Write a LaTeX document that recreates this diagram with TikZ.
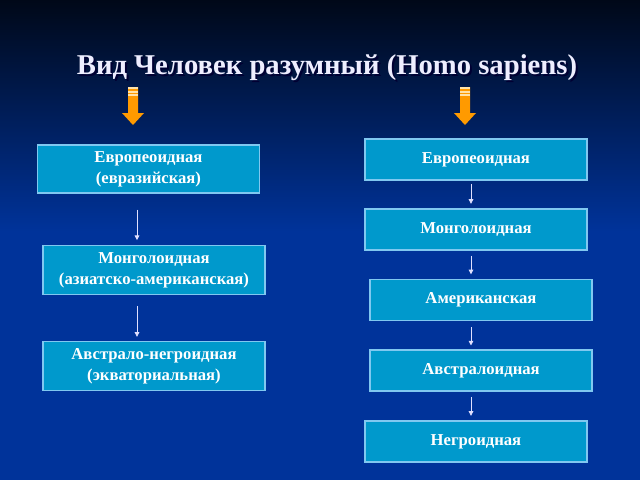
\documentclass[tikz,border=0pt]{standalone}
\usepackage{fontspec}
\setmainfont{Liberation Serif}
\usetikzlibrary{arrows.meta}
\usetikzlibrary{positioning}
\definecolor{bgtop}{HTML}{000818}
\definecolor{bgblue}{HTML}{00339A}
\definecolor{boxfill}{HTML}{0099CC}
\definecolor{boxline}{HTML}{80C8F0}
\definecolor{arroworange}{HTML}{FF9A00}
\definecolor{stripe}{HTML}{FFE2A8}
\definecolor{titlewhite}{HTML}{EEEEFF}

\begin{document}
\begin{tikzpicture}[x=0.75pt,y=-0.75pt,
			Race/.style={rectangle,draw=boxline,line width=0.8pt,fill=boxfill,text=white,
				minimum width=166.5pt,minimum height=30.75pt,inner sep=0pt,align=center,
				font=\bfseries\fontsize{12.5}{16}\selectfont},
			RaceTall/.style={Race,minimum height=37pt},
			link/.style={draw=white!88!blue,line width=0.6pt,-{Triangle[width=3.5pt,length=3.5pt]}},
			Title/.style={font=\bfseries\fontsize{21.5}{26}\selectfont},
			]
			
			%background
			\useasboundingbox (0,0) rectangle (640,480);
			\fill[bgblue] (0,230) rectangle (640,480);
			\shade[top color=bgtop,bottom color=bgblue] (0,0) rectangle (640,231);
			
			%title
			\node[Title,text=black!80!blue] (TitleShadow) at (329,70) {Вид Человек разумный (Homo sapiens)};
			\node[Title,text=titlewhite] (Title) at (327,68) {Вид Человек разумный (Homo sapiens)};
			
			%orange arrows
			\foreach \ax in {133,465}
			{
				\fill[arroworange] (\ax-5,87) -- (\ax+5,87) -- (\ax+5,113) -- (\ax+11,113)
					-- (\ax,125) -- (\ax-11,113) -- (\ax-5,113) -- cycle;
				\foreach \s in {87,90.5,94}
				{
					\fill[stripe] (\ax-5,\s) rectangle (\ax+5,\s+2);
				}
			}
			
			%left column
			\node[RaceTall,minimum height=36pt] (LeftEuro) at (148.5,169) {Европеоидная\\(евразийская)};
			\node[RaceTall] (LeftMongol) at (154,270) {Монголоидная\\(азиатско-американская)};
			\node[RaceTall] (LeftNegro) at (154,366) {Австрало-негроидная\\(экваториальная)};
			
			%right column
			\node[Race] (Euro) at (476,159.5) {Европеоидная};
			\node[Race] (Mongol) at (476,229.5) {Монголоидная};
			\node[Race] (Amer) at (481,300) {Американская};
			\node[Race] (Austral) at (481,370.5) {Австралоидная};
			\node[Race] (Negro) at (476,441.5) {Негроидная};
			
			%connectors
			\coordinate (lcol) at (137,0);
			\coordinate (rcol) at (471,0);
			\draw[link,shorten <=12pt,shorten >=3.5pt] (LeftEuro.south -| lcol) -- (LeftMongol.north -| lcol);
			\draw[link,shorten <=8pt,shorten >=3pt] (LeftMongol.south -| lcol) -- (LeftNegro.north -| lcol);
			\draw[link,shorten <=2.5pt,shorten >=3.5pt] (Euro.south -| rcol) -- (Mongol.north -| rcol);
			\draw[link,shorten <=4pt,shorten >=3.5pt] (Mongol.south -| rcol) -- (Amer.north -| rcol);
			\draw[link,shorten <=4.5pt,shorten >=3pt] (Amer.south -| rcol) -- (Austral.north -| rcol);
			\draw[link,shorten <=4pt,shorten >=3.5pt] (Austral.south -| rcol) -- (Negro.north -| rcol);
			
\end{tikzpicture}
\end{document}
